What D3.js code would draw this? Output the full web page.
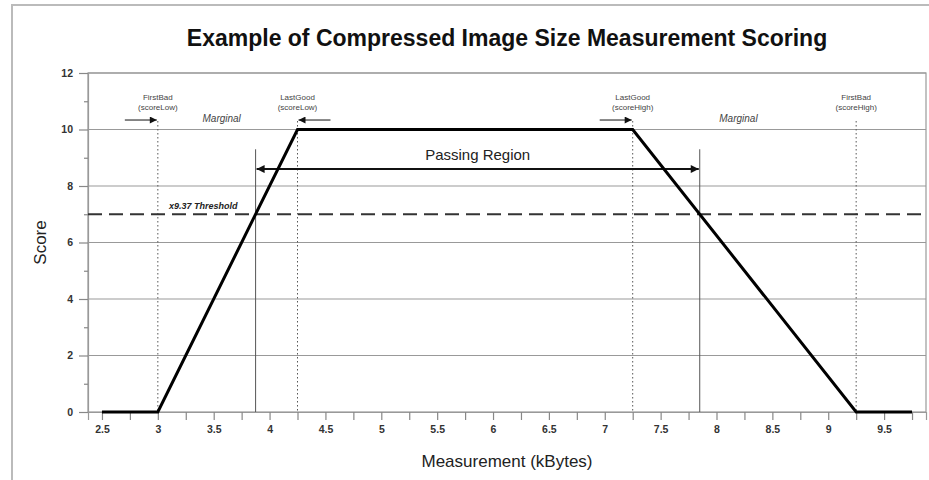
<!DOCTYPE html>
<html>
<head>
<meta charset="utf-8">
<script src="https://cdn.jsdelivr.net/npm/d3@7"></script>
<style>
  body { margin: 0; background: #fff; }
  svg { display: block; font-family: "Liberation Sans", Arial, sans-serif; }
</style>
</head>
<body>
<svg id="chart" width="929" height="480"></svg>
<script>
// Score curve (measurement in kBytes -> score)
const curveX = [2.5, 3, 4.25, 7.25, 9.25, 9.75];
const curveY = [0, 0, 10, 10, 0, 0];

// Threshold and passing region
const thresholdScore = 7;
const thresholdLabel = "x9.37 Threshold";
const passBounds = [3.875, 7.85];
const passLabel = "Passing Region";

// Marker lines
const markerX = [3, 4.25, 7.25, 9.25];
const markerTop = ["FirstBad", "LastGood", "LastGood", "FirstBad"];
const markerBottom = ["(scoreLow)", "(scoreLow)", "(scoreHigh)", "(scoreHigh)"];
const markerArrow = ["right", "left", "right", "none"];

// Marginal regions
const marginalRegions = [[3, 4.25], [7.25, 9.25]];

// Axis ticks
const xTickValues = d3.range(2.5, 9.76, 0.25);
const xTickLabels = [2.5, 3, 3.5, 4, 4.5, 5, 5.5, 6, 6.5, 7, 7.5, 8, 8.5, 9, 9.5];
const yTickValues = d3.range(0, 12.1, 1);
const yTickLabels = [0, 2, 4, 6, 8, 10, 12];

const svg = d3.select("#chart");

// Outer frame
svg.append("path")
  .attr("d", "M12,480 L12,5 L929,5")
  .attr("fill", "none")
  .attr("stroke", "#bbb")
  .attr("stroke-width", 2);

const margin = { top: 73, right: 3, bottom: 68, left: 88 };
const width = 929 - margin.left - margin.right;
const height = 480 - margin.top - margin.bottom;

const g = svg.append("g")
  .attr("transform", "translate(" + margin.left + "," + margin.top + ")");

const x = d3.scaleLinear().domain([2.375, 9.875]).range([0, width]);
const y = d3.scaleLinear().domain([0, 12]).range([height, 0]);

// Arrowhead markers
const defs = svg.append("defs");
defs.append("marker")
  .attr("id", "head")
  .attr("viewBox", "0 0 10 10")
  .attr("refX", 10).attr("refY", 5)
  .attr("markerWidth", 5).attr("markerHeight", 4)
  .attr("markerUnits", "strokeWidth")
  .attr("orient", "auto-start-reverse")
  .append("path").attr("d", "M0,0 L10,5 L0,10 Z").attr("fill", "#111");
defs.append("marker")
  .attr("id", "headSmall")
  .attr("viewBox", "0 0 10 10")
  .attr("refX", 10).attr("refY", 5)
  .attr("markerWidth", 10).attr("markerHeight", 7)
  .attr("markerUnits", "strokeWidth")
  .attr("orient", "auto-start-reverse")
  .append("path").attr("d", "M0,0 L10,5 L0,10 Z").attr("fill", "#111");

// Gridlines
g.selectAll(".grid")
  .data(yTickLabels.filter(d => d > 0))
  .enter().append("line")
  .attr("x1", 0).attr("x2", width)
  .attr("y1", d => y(d)).attr("y2", d => y(d))
  .attr("stroke", "#999")
  .attr("stroke-width", 1);

// Plot frame
g.append("rect")
  .attr("width", width).attr("height", height)
  .attr("fill", "none")
  .attr("stroke", "#999")
  .attr("stroke-width", 1.2);

// Axes
const xAxis = g.append("g")
  .attr("transform", "translate(0," + height + ")")
  .call(d3.axisBottom(x).tickValues(xTickValues).tickSize(8).tickPadding(6)
    .tickFormat(d => xTickLabels.some(v => Math.abs(v - d) < 1e-6) ? d3.format("")(d) : ""));
const yAxis = g.append("g")
  .call(d3.axisLeft(y).tickValues(yTickValues).tickSize(9).tickPadding(6)
    .tickFormat(d => yTickLabels.includes(d) ? d : ""));

// minor y ticks are short
yAxis.selectAll(".tick line")
  .attr("x2", d => yTickLabels.includes(d) ? -9 : -4);

[xAxis, yAxis].forEach(a => {
  a.select(".domain").attr("stroke", "#999").attr("stroke-width", 1.2);
  a.selectAll(".tick line").attr("stroke", "#888").attr("stroke-width", 1.2);
  a.selectAll(".tick text")
    .attr("fill", "#333")
    .style("font-size", "10.5px")
    .style("font-weight", "bold")
    .style("font-family", "Liberation Sans, Arial, sans-serif");
});

// Marker dotted lines
g.selectAll(".marker")
  .data(markerX)
  .enter().append("line")
  .attr("x1", d => x(d)).attr("x2", d => x(d))
  .attr("y1", y(10.3)).attr("y2", y(0))
  .attr("stroke", "#555")
  .attr("stroke-width", 1)
  .attr("stroke-dasharray", "1.5,2.5");

// Marker labels
markerX.forEach((d, i) => {
  const t = g.append("text")
    .attr("text-anchor", "middle")
    .attr("fill", "#444")
    .style("font-size", "8px");
  t.append("tspan").attr("x", x(d)).attr("y", y(10.3) - 21).text(markerTop[i]);
  t.append("tspan").attr("x", x(d)).attr("y", y(10.3) - 11).text(markerBottom[i]);

  if (markerArrow[i] !== "none") {
    const from = markerArrow[i] === "right" ? x(d) - 33 : x(d) + 33;
    g.append("line")
      .attr("x1", from).attr("x2", x(d) + (markerArrow[i] === "right" ? -1 : 1))
      .attr("y1", y(10.3) - 1).attr("y2", y(10.3) - 1)
      .attr("stroke", "#111")
      .attr("stroke-width", 1)
      .attr("marker-end", "url(#headSmall)");
  }
});

// Marginal labels
g.selectAll(".marginal")
  .data(marginalRegions)
  .enter().append("text")
  .attr("x", d => x((d[0] + d[1]) / 2) - 6)
  .attr("y", y(10.28))
  .attr("text-anchor", "middle")
  .attr("fill", "#444")
  .style("font-size", "10px")
  .style("font-style", "italic")
  .text("Marginal");

// Threshold dashed line
g.append("line")
  .attr("x1", 0).attr("x2", width)
  .attr("y1", y(thresholdScore)).attr("y2", y(thresholdScore))
  .attr("stroke", "#333")
  .attr("stroke-width", 1.8)
  .attr("stroke-dasharray", "14,7");

g.append("text")
  .attr("x", x(3.1))
  .attr("y", y(thresholdScore) - 5)
  .attr("fill", "#222")
  .style("font-size", "9px")
  .style("font-weight", "bold")
  .style("font-style", "italic")
  .text(thresholdLabel);

// Passing region boundaries
g.selectAll(".bound")
  .data(passBounds)
  .enter().append("line")
  .attr("x1", d => x(d)).attr("x2", d => x(d))
  .attr("y1", y(9.3)).attr("y2", y(0))
  .attr("stroke", "#555")
  .attr("stroke-width", 1);

g.append("line")
  .attr("x1", x(passBounds[0]) + 1).attr("x2", x(passBounds[1]) - 1)
  .attr("y1", y(8.6)).attr("y2", y(8.6))
  .attr("stroke", "#111")
  .attr("stroke-width", 2)
  .attr("marker-start", "url(#head)")
  .attr("marker-end", "url(#head)");

g.append("text")
  .attr("x", x((passBounds[0] + passBounds[1]) / 2))
  .attr("y", y(8.6) - 9)
  .attr("text-anchor", "middle")
  .attr("fill", "#222")
  .style("font-size", "15px")
  .text(passLabel);

// Score curve
const line = d3.line()
  .x((d, i) => x(curveX[i]))
  .y((d, i) => y(curveY[i]));
g.append("path")
  .datum(curveX)
  .attr("d", line)
  .attr("fill", "none")
  .attr("stroke", "#000")
  .attr("stroke-width", 3)
  .attr("stroke-linejoin", "miter");

// Title
svg.append("text")
  .attr("x", margin.left + width / 2)
  .attr("y", 46)
  .attr("text-anchor", "middle")
  .attr("fill", "#111")
  .style("font-size", "23px")
  .style("font-weight", "bold")
  .text("Example of Compressed Image Size Measurement Scoring");

// Axis titles
svg.append("text")
  .attr("x", margin.left + width / 2)
  .attr("y", 467)
  .attr("text-anchor", "middle")
  .attr("fill", "#222")
  .style("font-size", "17px")
  .text("Measurement (kBytes)");

svg.append("text")
  .attr("transform", "rotate(-90)")
  .attr("x", -(margin.top + height / 2))
  .attr("y", 46)
  .attr("text-anchor", "middle")
  .attr("fill", "#222")
  .style("font-size", "17px")
  .text("Score");
</script>
</body>
</html>
